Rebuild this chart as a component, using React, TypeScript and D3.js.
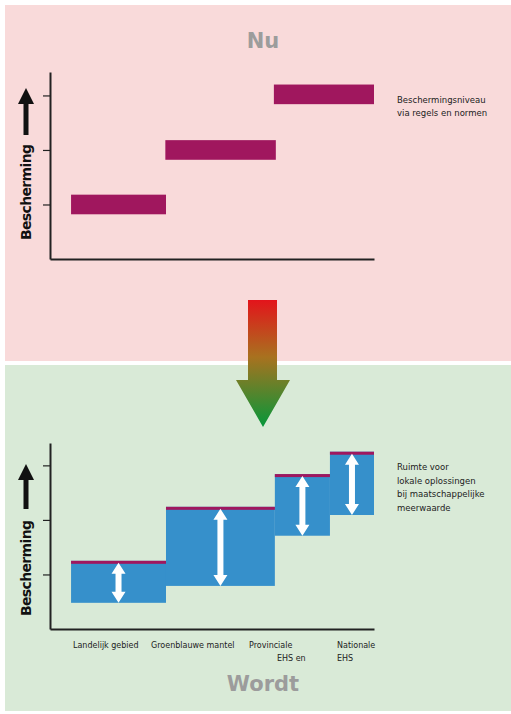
import React, { useRef, useEffect } from 'react';
import * as d3 from 'd3';

// categories along the horizontal axis (extent in 0-100 axis units)
const categories = ['Landelijk gebied', 'Groenblauwe mantel', 'Provinciale EHS en', 'Nationale EHS'];
const categoryStart = [6.5, 35.8, 69.4, 86.4];
const categoryEnd = [35.8, 69.4, 86.4, 100];

// "Nu": one protection level per group (provinciale + nationale share one)
const nuStart = [6.5, 35.6, 69.1];
const nuEnd = [35.8, 69.7, 100];
const nuLevel = [1.0, 2.0, 3.02];

// "Wordt": protection range per category
const wordtTop = [1.25, 2.24, 2.84, 3.25];
const wordtBottom = [0.48, 0.79, 1.71, 2.09];

const yTicks = [1, 2, 3];
const labelLines = [['Landelijk gebied'], ['Groenblauwe mantel'], ['Provinciale', 'EHS en'], ['Nationale', 'EHS']];
const labelOffsets = [[73], [151], [249, 277], [337, 337]];

const nuNote = ['Beschermingsniveau', 'via regels en normen'];
const wordtNote = ['Ruimte voor', 'lokale oplossingen', 'bij maatschappelijke', 'meerwaarde'];

const FONT = 'DejaVu Sans, sans-serif';
const DARK = '#222';
const MAGENTA = '#A0175E';
const BLUE = '#3690CB';

const App: React.FC = () => {
  const svgRef = useRef<SVGSVGElement | null>(null);

  useEffect(() => {
    if (!svgRef.current) return;
    const svg = d3.select(svgRef.current);
    svg.selectAll('*').remove();

    // backgrounds
    svg.append('rect').attr('x', 0).attr('y', 0).attr('width', 511).attr('height', 714).attr('fill', '#fff');
    svg.append('rect').attr('x', 5).attr('y', 5).attr('width', 506).attr('height', 356).attr('fill', '#F9DADA');
    svg.append('rect').attr('x', 5).attr('y', 365).attr('width', 506).attr('height', 346).attr('fill', '#D9EAD7');

    const x = d3.scaleLinear().domain([0, 100]).range([50, 374]);

    const drawFrame = (y: d3.ScaleLinear<number, number>, arrowTip: number, arrowEnd: number, labelMid: number) => {
      const yAxis = d3.axisLeft(y).tickValues(yTicks).tickSize(7).tickSizeOuter(0).tickFormat(() => '');
      const ya = svg.append('g').attr('transform', 'translate(50,0)').call(yAxis);
      ya.select('.domain').attr('stroke', DARK).attr('stroke-width', 2);
      ya.selectAll('.tick line').attr('stroke', DARK).attr('stroke-width', 1.2);

      const xAxis = d3.axisBottom(x).tickValues([]).tickSizeOuter(0);
      const xa = svg.append('g').attr('transform', `translate(0,${y.range()[0]})`).call(xAxis);
      xa.select('.domain').attr('stroke', DARK).attr('stroke-width', 2.2);

      // axis title + arrow
      svg.append('path')
        .attr('d', `M26,${arrowTip} L34,${arrowTip + 16} L28.5,${arrowTip + 16} L28.5,${arrowEnd} L23.5,${arrowEnd} L23.5,${arrowTip + 16} L18,${arrowTip + 16} Z`)
        .attr('fill', '#111');
      svg.append('text')
        .attr('transform', `translate(31,${labelMid}) rotate(-90)`)
        .attr('text-anchor', 'middle')
        .attr('font-family', FONT)
        .attr('font-weight', 'bold')
        .attr('font-size', 14)
        .attr('textLength', 96)
        .attr('fill', '#111')
        .text('Bescherming');
    };

    const note = (lines: string[], y0: number, step: number) => {
      lines.forEach((l, i) => {
        svg.append('text')
          .attr('x', 397).attr('y', y0 + i * step)
          .attr('font-family', FONT).attr('font-size', 8.5).attr('fill', DARK)
          .text(l);
      });
    };

    const title = (t: string, yPos: number) => {
      svg.append('text')
        .attr('x', 263).attr('y', yPos)
        .attr('text-anchor', 'middle')
        .attr('font-family', FONT).attr('font-weight', 'bold').attr('font-size', 21)
        .attr('fill', '#9C9C9C')
        .text(t);
    };

    // ---------- Nu ----------
    const yNu = d3.scaleLinear().domain([0, 3.43]).range([259, 72]);
    title('Nu', 48);
    drawFrame(yNu, 88, 135, 192);
    const half = 0.18;
    svg.append('g').selectAll('rect')
      .data(nuLevel)
      .enter()
      .append('rect')
      .attr('x', (_d, i) => x(nuStart[i]))
      .attr('width', (_d, i) => x(nuEnd[i]) - x(nuStart[i]))
      .attr('y', d => yNu(d + half))
      .attr('height', d => yNu(d - half) - yNu(d + half))
      .attr('fill', MAGENTA);
    note(nuNote, 103, 13);

    // ---------- gradient arrow ----------
    const defs = svg.append('defs');
    const grad = defs.append('linearGradient')
      .attr('id', 'redGreen').attr('gradientUnits', 'userSpaceOnUse')
      .attr('x1', 0).attr('y1', 300).attr('x2', 0).attr('y2', 427);
    grad.append('stop').attr('offset', '0%').attr('stop-color', '#E3141B');
    grad.append('stop').attr('offset', '45%').attr('stop-color', '#A8721F');
    grad.append('stop').attr('offset', '100%').attr('stop-color', '#05973A');
    svg.append('path')
      .attr('d', 'M248,300 L277,300 L277,380 L290,380 L263,427 L236,380 L248,380 Z')
      .attr('fill', 'url(#redGreen)');

    // ---------- Wordt ----------
    const yW = d3.scaleLinear().domain([0, 3.41]).range([629, 443]);
    drawFrame(yW, 464, 509, 568);

    const blocks = svg.append('g');
    blocks.selectAll('rect.range')
      .data(categories)
      .enter()
      .append('rect')
      .attr('class', 'range')
      .attr('x', (_d, i) => x(categoryStart[i]))
      .attr('width', (_d, i) => x(categoryEnd[i]) - x(categoryStart[i]))
      .attr('y', (_d, i) => yW(wordtTop[i]))
      .attr('height', (_d, i) => yW(wordtBottom[i]) - yW(wordtTop[i]))
      .attr('fill', BLUE);
    blocks.selectAll('rect.cap')
      .data(categories)
      .enter()
      .append('rect')
      .attr('class', 'cap')
      .attr('x', (_d, i) => x(categoryStart[i]))
      .attr('width', (_d, i) => x(categoryEnd[i]) - x(categoryStart[i]))
      .attr('y', (_d, i) => yW(wordtTop[i]))
      .attr('height', 3)
      .attr('fill', MAGENTA);

    // white double arrows
    blocks.selectAll('path.dbl')
      .data(categories)
      .enter()
      .append('path')
      .attr('class', 'dbl')
      .attr('d', (_d, i) => {
        const cx = (x(categoryStart[i]) + x(categoryEnd[i])) / 2;
        const t = yW(wordtTop[i]) + 2;
        const b = yW(wordtBottom[i]);
        const hw = 7, sw = 3, hh = 11;
        return `M${cx},${t} L${cx + hw},${t + hh} L${cx + sw},${t + hh} L${cx + sw},${b - hh} L${cx + hw},${b - hh} ` +
          `L${cx},${b} L${cx - hw},${b - hh} L${cx - sw},${b - hh} L${cx - sw},${t + hh} L${cx - hw},${t + hh} Z`;
      })
      .attr('fill', '#fff');

    // category labels
    labelLines.forEach((lines, i) => {
      lines.forEach((l, j) => {
        svg.append('text')
          .attr('x', labelOffsets[i][j]).attr('y', 648 + j * 13)
          .attr('font-family', FONT).attr('font-size', 8).attr('fill', DARK)
          .text(l);
      });
    });

    note(wordtNote, 470, 13.5);
    title('Wordt', 691);
  }, []);

  return (
    <div style={{ position: 'absolute', left: 0, top: 0 }}>
      <svg ref={svgRef} width={511} height={714} style={{ display: 'block' }}></svg>
    </div>
  );
};

export default App;
